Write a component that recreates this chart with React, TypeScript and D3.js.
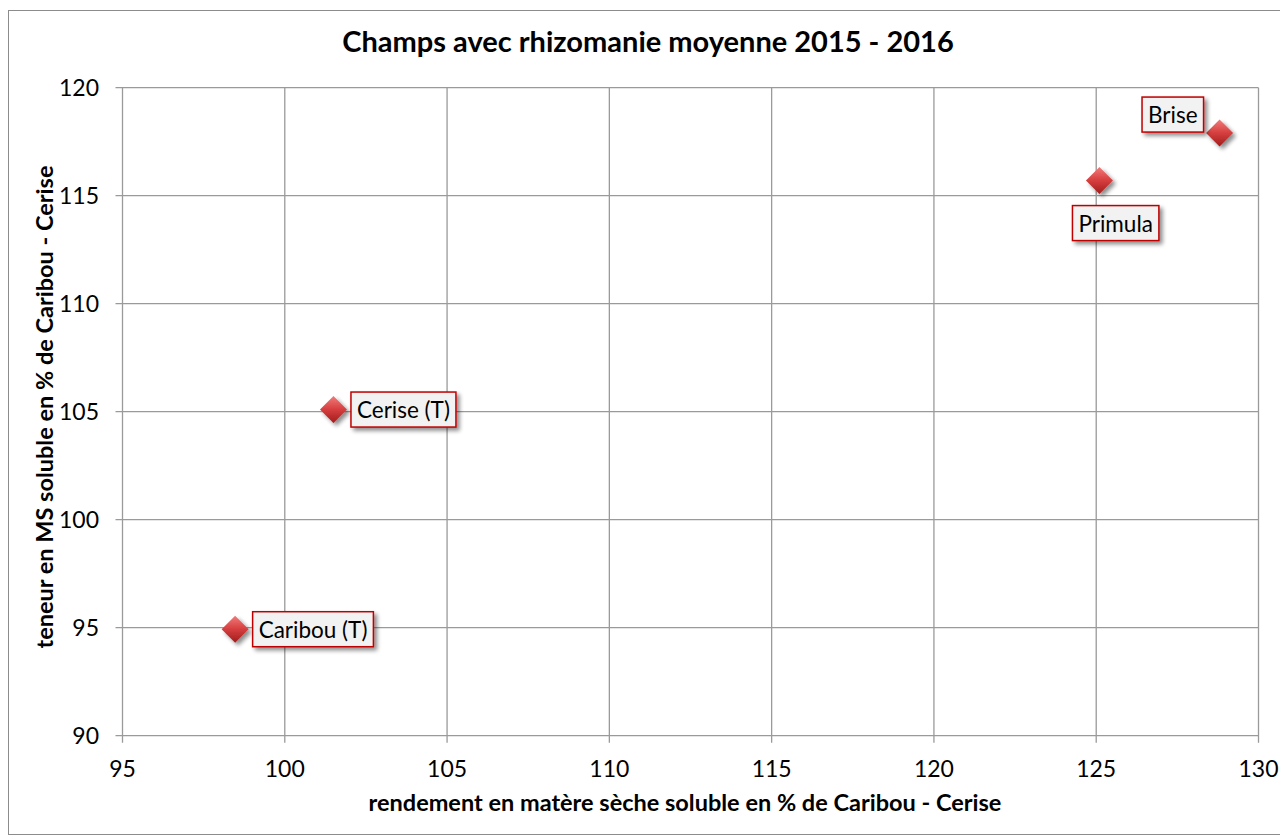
import React from "react";
import * as d3 from "d3";

const names = ["Caribou (T)", "Cerise (T)", "Primula", "Brise"];
const xValues = [98.47, 101.5, 125.1, 128.8];
const yValues = [94.93, 105.1, 115.7, 117.9];
const labelPos = ["right", "right", "below", "aboveLeft"];
const xTicks = [95, 100, 105, 110, 115, 120, 125, 130];
const yTicks = [90, 95, 100, 105, 110, 115, 120];

const W = 1280, H = 836;
const M = { left: 122.5, right: 1258.5, top: 87.7, bottom: 735.7 };
const FONT = "Lato, 'Open Sans', sans-serif";
const LABEL_SIZE = 22.5;

function measure(text: string, size: number, weight = "normal") {
  if (typeof document === "undefined") return text.length * size * 0.5;
  const c = document.createElement("canvas").getContext("2d");
  if (!c) return text.length * size * 0.5;
  c.font = `${weight} ${size}px Lato, 'Open Sans', sans-serif`;
  return c.measureText(text).width;
}

export default function App() {
  const x = d3.scaleLinear().domain([95, 130]).range([M.left, M.right]);
  const y = d3.scaleLinear().domain([90, 120]).range([M.bottom, M.top]);
  const pts = names.map((n, i) => ({ n, x: x(xValues[i]), y: y(yValues[i]), pos: labelPos[i] }));
  return (
    <svg width={W} height={H} style={{ position: "absolute", left: 0, top: 0, fontFamily: FONT }}>
      <defs>
        <linearGradient id="dg" x1="0" y1="0" x2="0" y2="1">
          <stop offset="0" stopColor="#f27a7a" />
          <stop offset="0.5" stopColor="#d63e3e" />
          <stop offset="1" stopColor="#a01c1c" />
        </linearGradient>
        <filter id="sh" x="-20%" y="-20%" width="150%" height="160%">
          <feGaussianBlur in="SourceAlpha" stdDeviation="2" />
          <feOffset dx="3" dy="3" result="b" />
          <feComponentTransfer><feFuncA type="linear" slope="0.45" /></feComponentTransfer>
          <feMerge><feMergeNode /><feMergeNode in="SourceGraphic" /></feMerge>
        </filter>
      </defs>
      <rect x={0} y={0} width={W} height={H} fill="#fff" />
      <rect x={8.5} y={10.5} width={1275} height={824} fill="#fff" stroke="#8c8c8c" strokeWidth={1} />
      <text x={648} y={52} textAnchor="middle" fontWeight="bold" fontSize={29} fill="#000">
        Champs avec rhizomanie  moyenne 2015 - 2016
      </text>
      {xTicks.map((t) => (
        <line key={"gx" + t} x1={x(t)} x2={x(t)} y1={M.top} y2={M.bottom + 7} stroke="#9a9a9a" strokeWidth={1.3} />
      ))}
      {yTicks.map((t) => (
        <line key={"gy" + t} x1={M.left - 7} x2={M.right} y1={y(t)} y2={y(t)} stroke="#9a9a9a" strokeWidth={1.3} />
      ))}
      {xTicks.map((t) => (
        <text key={"tx" + t} x={x(t)} y={777} textAnchor="middle" fontSize={23} fill="#000">{t}</text>
      ))}
      {yTicks.map((t) => (
        <text key={"ty" + t} x={M.left - 23.5} y={y(t) + 7.8} textAnchor="end" fontSize={23} fill="#000">{t}</text>
      ))}
      <text x={685} y={811} textAnchor="middle" fontWeight="bold" fontSize={23.5} fill="#000">
        rendement en matère sèche soluble en % de Caribou - Cerise
      </text>
      <text transform={`translate(53,407) rotate(-90)`} textAnchor="middle" fontWeight="bold" fontSize={23.5} fill="#000">
        teneur en MS soluble en % de Caribou - Cerise
      </text>
      {pts.map((p) => {
        const s = 13.5;
        return (
          <path key={"m" + p.n} d={`M${p.x},${p.y - s}L${p.x + s},${p.y}L${p.x},${p.y + s}L${p.x - s},${p.y}Z`}
            fill="url(#dg)" filter="url(#sh)" />
        );
      })}
      {pts.map((p) => {
        const w = measure(p.n, LABEL_SIZE) + 12;
        const h = 35;
        let bx = 0, by = 0;
        if (p.pos === "right") { bx = p.x + 17.5; by = p.y - h / 2; }
        else if (p.pos === "below") { bx = p.x - 27; by = p.y + 25; }
        else { bx = p.x - 16 - w; by = p.y - 36; }
        return (
          <g key={"l" + p.n}>
            <rect x={bx} y={by} width={w} height={h} fill="#f2f2f2" stroke="#c00000" strokeWidth={1.5} filter="url(#sh)" />
            <text x={bx + w / 2} y={by + 26} textAnchor="middle" fontSize={LABEL_SIZE} fill="#000">{p.n}</text>
          </g>
        );
      })}
    </svg>
  );
}
